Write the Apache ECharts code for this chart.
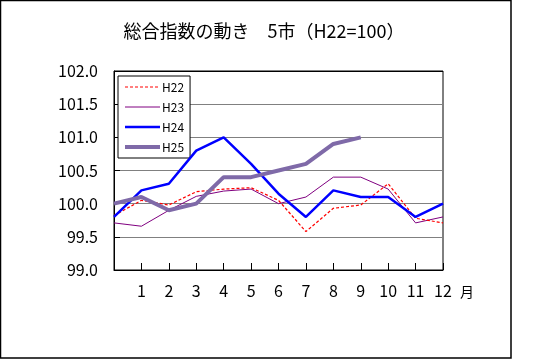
<!DOCTYPE html>
<html>
<head>
<meta charset="utf-8">
<script src="https://cdn.jsdelivr.net/npm/echarts@6/dist/echarts.min.js"></script>
<style>
html,body{margin:0;padding:0;background:#fff;}
#c{width:533px;height:359px;}
</style>
</head>
<body>
<div id="c"></div>
<script>
const months = ['', '1', '2', '3', '4', '5', '6', '7', '8', '9', '10', '11', '12'];
const yTicks = [99.0, 99.5, 100.0, 100.5, 101.0, 101.5, 102.0];
const seriesNames = ['H22', 'H23', 'H24', 'H25'];
const h22 = [99.82, 100.05, 99.98, 100.18, 100.22, 100.24, 100.05, 99.58, 99.93, 99.98, 100.3, 99.78, 99.71];
const h23 = [99.71, 99.66, 99.9, 100.11, 100.19, 100.22, 100.0, 100.1, 100.4, 100.4, 100.22, 99.71, 99.8];
const h24 = [99.8, 100.2, 100.3, 100.8, 101.0, 100.6, 100.15, 99.8, 100.2, 100.1, 100.1, 99.8, 100.0];
const h25 = [100.0, 100.1, 99.9, 100.0, 100.4, 100.4, 100.5, 100.6, 100.9, 101.0];

const widths = [1.2, 1, 2.5, 4];
const colors = ['#ff0000', '#800080', '#0000ff', '#7f6aa8'];
const dashes = [[3, 2], 'solid', 'solid', 'solid'];
const values = [h22, h23, h24, h25];

const chart = echarts.init(document.getElementById('c'), null, {renderer: 'canvas'});
const font = '"Noto Sans CJK JP", "Noto Sans", sans-serif';
chart.setOption({
  animation: false,
  backgroundColor: '#fff',
  textStyle: {fontFamily: font},
  title: {
    text: '総合指数の動き　5市（H22=100）',
    left: 259, top: 17, textAlign: 'center',
    textStyle: {fontSize: 18, fontWeight: 'normal', color: '#000', fontFamily: font}
  },
  graphic: [{
    type: 'rect', shape: {x: 0.5, y: 0.5, width: 510.5, height: 357.5},
    style: {fill: 'none', stroke: '#000', lineWidth: 1.5}, z: 100, silent: true
  }],
  legend: {
    orient: 'vertical', left: 118, top: 76,
    data: seriesNames.map((n, i) => ({
      name: n,
      itemStyle: {opacity: 0},
      lineStyle: {width: widths[i], color: colors[i], type: dashes[i]}
    })),
    itemWidth: 35, itemHeight: 14, itemGap: 8,
    padding: [5, 6, 5, 5],
    backgroundColor: '#fff', borderColor: '#000', borderWidth: 1,
    itemStyle: {opacity: 0},
    textStyle: {fontSize: 12, color: '#000', padding: [0, 0, 0, -3], fontFamily: font}
  },
  grid: {left: 114, top: 71, width: 329, height: 199, show: true, borderColor: '#000', borderWidth: 1, backgroundColor: 'transparent'},
  xAxis: {
    type: 'category', boundaryGap: false, data: months,
    name: '月', nameLocation: 'end', nameGap: 17,
    nameTextStyle: {fontSize: 14, color: '#000', align: 'left', verticalAlign: 'top', padding: [15, 0, 0, 0]},
    axisLine: {lineStyle: {color: '#000', width: 1}},
    axisTick: {inside: true, length: 7, alignWithLabel: true, lineStyle: {color: '#000'}},
    axisLabel: {fontSize: 16, color: '#000', margin: 13, interval: 0},
    splitLine: {show: false}
  },
  yAxis: {
    type: 'value', min: 99, max: 102, interval: 0.5,
    axisLine: {show: true, lineStyle: {color: '#000', width: 1}},
    axisTick: {show: true, inside: true, length: 6, lineStyle: {color: '#000'}},
    axisLabel: {fontSize: 16, color: '#000', margin: 16, formatter: v => v.toFixed(1)},
    splitLine: {show: true, lineStyle: {color: ['#000', '#808080', '#808080', '#808080', '#808080', '#808080', '#000'], width: 1}}
  },
  series: seriesNames.map((n, i) => ({
    name: n, type: 'line', data: values[i], symbol: 'none', color: colors[i],
    lineStyle: {color: colors[i], width: widths[i], type: dashes[i]},
    z: [3, 2, 4, 5][i]
  }))
});
</script>
</body>
</html>
